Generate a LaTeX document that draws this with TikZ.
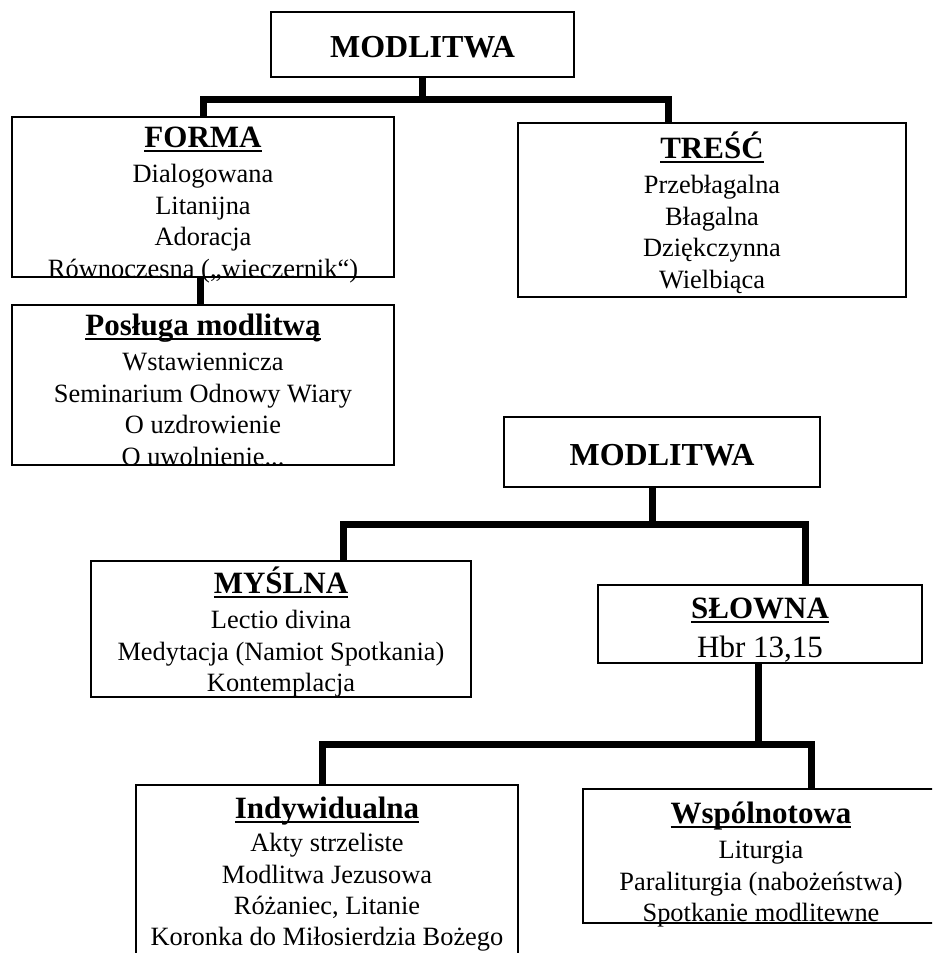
\documentclass[tikz,border=0pt]{standalone}
\usepackage{fontspec}
\setmainfont{Liberation Serif}
\newcommand\ulx[1]{\leavevmode\setbox0\hbox{#1}\rlap{\rule[-4.5pt]{\wd0}{2pt}}\box0}
\newcommand\boxtext[3][3.8pt]{\parbox[t]{440pt}{\centering\fontsize{31}{35}\selectfont\bfseries\ulx{#2}\par\vspace{#1}\mdseries\fontsize{26.4}{31.7}\selectfont #3}}
\begin{document}
\begin{tikzpicture}[x=1pt,y=-1pt,
  box/.style={draw, line width=1.1pt, inner sep=0pt},
  conn/.style={line width=7pt, line join=miter, line cap=butt},
  lbl/.style={inner sep=0pt, anchor=base},
  head/.style={inner sep=0pt, anchor=base, font=\fontsize{32}{36}\selectfont\bfseries}]
\useasboundingbox (0,0) rectangle (932,953);
\clip (0,0) rectangle (932,953);
% boxes
\node[box, minimum width=303pt, minimum height=65pt] (m1) at (422.5,44.5) {};
\node[box, minimum width=382pt, minimum height=160pt] (forma) at (203,197) {};
\node[box, minimum width=388pt, minimum height=174pt] (tresc) at (712,210) {};
\node[box, minimum width=382pt, minimum height=160pt] (posluga) at (203,385) {};
\node[box, minimum width=316pt, minimum height=70pt] (m2) at (662,452) {};
\node[box, minimum width=380pt, minimum height=136pt] (myslna) at (281,629) {};
\node[box, minimum width=324pt, minimum height=78pt] (slowna) at (760,624) {};
\node[box, minimum width=382pt, minimum height=190pt] (indyw) at (327,880) {};
\node[box, minimum width=357pt, minimum height=134pt] (wspol) at (761.5,856) {};
% texts
\node[head] (m1T) at (422.5,57) {MODLITWA};
\node[head] (m2T) at (662,465) {MODLITWA};
\node[lbl] (formaT) at (203,147) {\boxtext{FORMA}{Dialogowana\\Litanijna\\Adoracja\\Równoczesna („wieczernik“)}};
\node[lbl] (trescT) at (712,158) {\boxtext{TREŚĆ}{Przebłagalna\\Błagalna\\Dziękczynna\\Wielbiąca}};
\node[lbl] (poslugaT) at (203,335) {\boxtext{Posługa modlitwą}{Wstawiennicza\\Seminarium Odnowy Wiary\\O uzdrowienie\\O uwolnienie...}};
\node[lbl] (myslnaT) at (281,593) {\boxtext{MYŚLNA}{Lectio divina\\Medytacja (Namiot Spotkania)\\Kontemplacja}};
\node[lbl] (slownaT) at (760,618) {\boxtext{SŁOWNA}{\fontsize{31}{36}\selectfont Hbr 13,15}};
\node[lbl] (indywT) at (327,818) {\boxtext[2.6pt]{Indywidualna}{\fontsize{26.4}{31.3}\selectfont Akty strzeliste\\Modlitwa Jezusowa\\Różaniec, Litanie\\Koronka do Miłosierdzia Bożego}};
\node[lbl] (wspolT) at (761,823) {\boxtext{Wspólnotowa}{Liturgia\\Paraliturgia (nabożeństwa)\\Spotkanie modlitewne}};
% connectors
\draw[conn] (m1.south) -- ++(0,22) -| (forma.north);
\draw[conn] (m1.south) -- ++(0,22) -| ([xshift=-44pt]tresc.north);
\draw[conn] ([xshift=-3pt]forma.south) -- ([xshift=-3pt]posluga.north);
\draw[conn] ([xshift=-10pt]m2.south) -- ++(0,37) -| ([xshift=62pt]myslna.north);
\draw[conn] ([xshift=-10pt]m2.south) -- ++(0,37) -| ([xshift=45pt]slowna.north);
\draw[conn] ([xshift=-2pt]slowna.south) -- ++(0,81) -| ([xshift=-5pt]indyw.north);
\draw[conn] ([xshift=-2pt]slowna.south) -- ++(0,81) -| ([xshift=50pt]wspol.north);
\end{tikzpicture}
\end{document}
